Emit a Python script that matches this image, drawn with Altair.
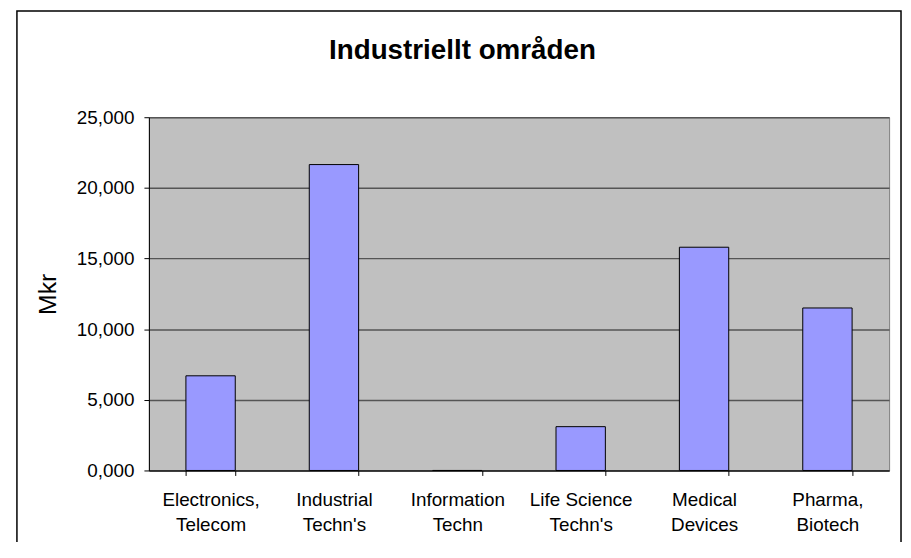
import altair as alt
import pandas as pd

title_text = "Industriellt områden"
categories = ["Electronics,\nTelecom", "Industrial\nTechn's", "Information\nTechn",
              "Life Science\nTechn's", "Medical\nDevices", "Pharma,\nBiotech"]
values = [6.7, 21.65, 0.0, 3.1, 15.8, 11.5]
y_ticks = [0, 5, 10, 15, 20, 25]

df = pd.DataFrame({"category": categories, "value": values})

FONT = "Liberation Sans"

bars = alt.Chart(df).mark_bar(color="#9999FF", stroke="black", strokeWidth=1).encode(
    x=alt.X("category:N", sort=categories,
            scale=alt.Scale(paddingInner=0.6, paddingOuter=0.3),
            axis=alt.Axis(title=None, labelAngle=0, labelFontSize=19, labelFont=FONT,
                          labelColor="black", labelLineHeight=26, labelPadding=15,
                          labelExpr="split(datum.label, '\\n')",
                          tickBand="extent", tickColor="black", tickSize=5,
                          domainColor="black", domainWidth=1, grid=False)),
    y=alt.Y("value:Q", scale=alt.Scale(domain=[0, 25], nice=False),
            axis=alt.Axis(title="Mkr", values=y_ticks, labelFontSize=19, labelFont=FONT,
                          labelColor="black", labelPadding=10,
                          labelExpr="replace(format(datum.value, '.3f'), '.', ',')",
                          tickColor="black", tickSize=5, domainColor="black",
                          gridColor="#555555", gridWidth=1.5,
                          titleFont=FONT, titleFontSize=25, titleFontWeight="normal",
                          titleColor="black", titleAngle=270, titleX=-102, titleY=178,
                          titleAlign="center", titleBaseline="middle")),
)

border = alt.Chart(alt.Data(values=[{}])).mark_rect(
    fillOpacity=0, stroke="black", strokeWidth=1.5
).encode(
    x=alt.value(-133), x2=alt.value(758), y=alt.value(-107), y2=alt.value(560)
)

title = alt.Chart(alt.Data(values=[{"t": title_text}])).mark_text(
    font=FONT, fontSize=28, fontWeight="bold", color="black",
    align="center", baseline="alphabetic"
).encode(
    text="t:N", x=alt.value(316), y=alt.value(-59)
)

chart = alt.layer(bars, border, title).properties(
    width=746, height=356,
    autosize=alt.AutoSizeParams(type="none"),
    padding={"left": 142, "top": 108, "right": 14, "bottom": 70},
).configure(
    background="white",
    view=alt.ViewConfig(fill="#C0C0C0", stroke="#808080", strokeWidth=1),
)

chart.save("out.html", embed_options={"renderer": "svg", "actions": False})
